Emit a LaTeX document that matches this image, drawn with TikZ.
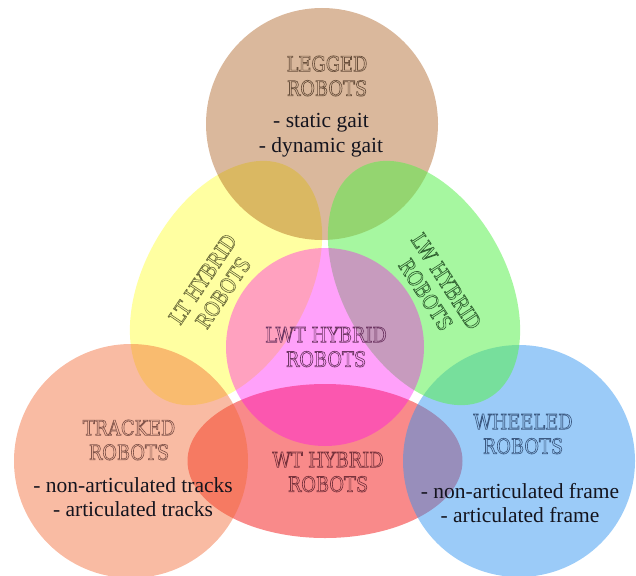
\documentclass[tikz,border=0pt]{standalone}
\usepackage{fontspec}
\setmainfont{Liberation Serif}
\newfontfamily\capsfont[FakeStretch=0.85]{DejaVu Serif}
\usetikzlibrary{shapes.geometric}

\definecolor{leggedfill}{RGB}{160,73,0}
\definecolor{ltfill}{RGB}{255,255,0}
\definecolor{lwfill}{RGB}{87,240,75}
\definecolor{lwtfill}{RGB}{255,0,241}
\definecolor{trackedfill}{RGB}{242,104,51}
\definecolor{wtfill}{RGB}{242,0,0}
\definecolor{wheeledfill}{RGB}{47,147,240}
\definecolor{leggedline}{RGB}{105,80,60}
\definecolor{ltline}{RGB}{110,110,60}
\definecolor{lwline}{RGB}{50,100,50}
\definecolor{lwtline}{RGB}{110,55,100}
\definecolor{trackedline}{RGB}{130,85,75}
\definecolor{wtline}{RGB}{120,50,60}
\definecolor{wheeledline}{RGB}{60,90,130}
\definecolor{listtext}{RGB}{20,20,30}

\newcommand{\hollow}[1]{\special{pdf:literal direct 1 Tr 0.65 w}#1\special{pdf:literal direct 0 Tr}}

\tikzstyle{set} = [circle, inner sep=0pt]
\tikzstyle{lens} = [ellipse, inner sep=0pt]
\tikzstyle{title} = [align=center, font=\capsfont\fontsize{21}{24.5}\selectfont]
\tikzstyle{list} = [align=center, text=listtext, font=\fontsize{21.5}{24.5}\selectfont]

\begin{document}
\begin{tikzpicture}[x=1pt,y=-1pt]
    \useasboundingbox (0,0) rectangle (636,575);
    % Sets, lower ones first
    \node (lt) at (226,283) [lens, fill=ltfill, fill opacity=0.37, minimum width=264pt, minimum height=164pt, rotate=61] {};
    \node (legged) at (322,124) [set, fill=leggedfill, fill opacity=0.39, minimum size=232pt] {};
    \node (wt) at (325,461) [lens, fill=wtfill, fill opacity=0.46, minimum width=275pt, minimum height=154pt] {};
    \node (wheeled) at (519,461) [set, fill=wheeledfill, fill opacity=0.48, minimum size=232pt] {};
    \node (lw) at (424,283) [lens, fill=lwfill, fill opacity=0.53, minimum width=264pt, minimum height=164pt, rotate=-61] {};
    \node (tracked) at (131,461) [set, fill=trackedfill, fill opacity=0.45, minimum size=234pt] {};
    \node (lwt) at (325,347) [set, fill=lwtfill, fill opacity=0.37, minimum size=198pt] {};
    % Labels
    \node (leggedname) at (327,76) [title, text=leggedline] {\hollow{LEGGED\\ROBOTS}};
    \node (leggedlist) at (321,135) [list] {- static gait\\- dynamic gait};
    \node (ltname) at (213,286) [title, text=ltline, rotate=56] {\hollow{LT HYBRID\\ROBOTS}};
    \node (lwname) at (436,288) [title, text=lwline, rotate=-57] {\hollow{LW HYBRID\\ROBOTS}};
    \node (lwtname) at (326,347) [title, text=lwtline] {\hollow{LWT HYBRID\\ROBOTS}};
    \node (trackedname) at (129,440) [title, text=trackedline] {\hollow{TRACKED\\ROBOTS}};
    \node (trackedlist) at (133,497) [list] {- non-articulated tracks\\- articulated tracks};
    \node (wtname) at (328,472) [title, text=wtline] {\hollow{WT HYBRID\\ROBOTS}};
    \node (wheeledname) at (523,434) [title, text=wheeledline] {\hollow{WHEELED\\ROBOTS}};
    \node (wheeledlist) at (520,503) [list] {- non-articulated frame\\- articulated frame};
\end{tikzpicture}
\end{document}
